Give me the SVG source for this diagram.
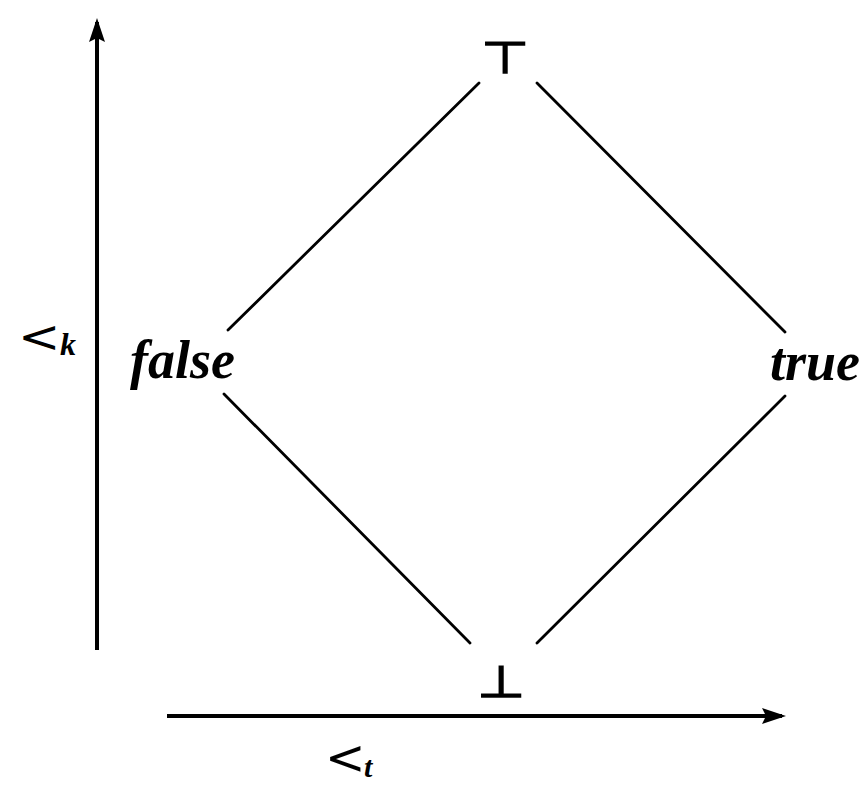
<svg xmlns="http://www.w3.org/2000/svg" width="863" height="785" viewBox="0 0 863 785">
  <style>
    .edge { stroke: #000; stroke-width: 2.8; fill: none; stroke-linecap: round; }
    .axis { stroke: #000; stroke-width: 4; fill: none; }
    .lbl { font-family: "Liberation Serif", "DejaVu Serif", serif; font-weight: bold; font-style: italic; fill: #000; }
    .sym { font-family: "DejaVu Sans", sans-serif; fill: #000; }
    .thick { stroke: #000; stroke-width: 1.4; }
  </style>
  <defs>
    <marker id="head" markerUnits="userSpaceOnUse" markerWidth="26" markerHeight="18" refX="20" refY="8" orient="auto">
      <path d="M0,0 L24,8 L0,16 L4,8 z" fill="#000"/>
    </marker>
  </defs>
  <rect width="863" height="785" fill="#fff"/>

  <g id="connectors">
    <line class="edge" x1="479" y1="83" x2="228" y2="330"/>
    <line class="edge" x1="537" y1="83" x2="785" y2="332"/>
    <line class="edge" x1="224" y1="394" x2="470" y2="643"/>
    <line class="edge" x1="785" y1="396" x2="537" y2="643"/>
  </g>

  <g id="axis-k">
    <line class="axis" x1="97" y1="650" x2="97" y2="22" marker-end="url(#head)"/>
    <text class="sym" x="0" y="0" font-size="44" transform="translate(18 352) scale(1.15 1)">&lt;</text>
    <text class="lbl" x="60" y="355" font-size="32">k</text>
  </g>

  <g id="axis-t">
    <line class="axis" x1="167" y1="716" x2="782" y2="716" marker-end="url(#head)"/>
    <text class="sym" x="0" y="0" font-size="44" transform="translate(325 774) scale(1.1 1.1)">&lt;</text>
    <text class="lbl" x="364" y="777" font-size="30">t</text>
  </g>

  <g id="node-top">
    <text class="sym thick" x="0" y="0" font-size="44" text-anchor="middle" transform="translate(505 73) scale(1.25 1)">⊤</text>
  </g>
  <g id="node-false">
    <text class="lbl" x="130" y="378" font-size="54">false</text>
  </g>
  <g id="node-true">
    <text class="lbl" x="770" y="380" font-size="54">true</text>
  </g>
  <g id="node-bottom">
    <text class="sym thick" x="0" y="0" font-size="44" text-anchor="middle" transform="translate(501 697) scale(1.25 1)">⊥</text>
  </g>
</svg>
